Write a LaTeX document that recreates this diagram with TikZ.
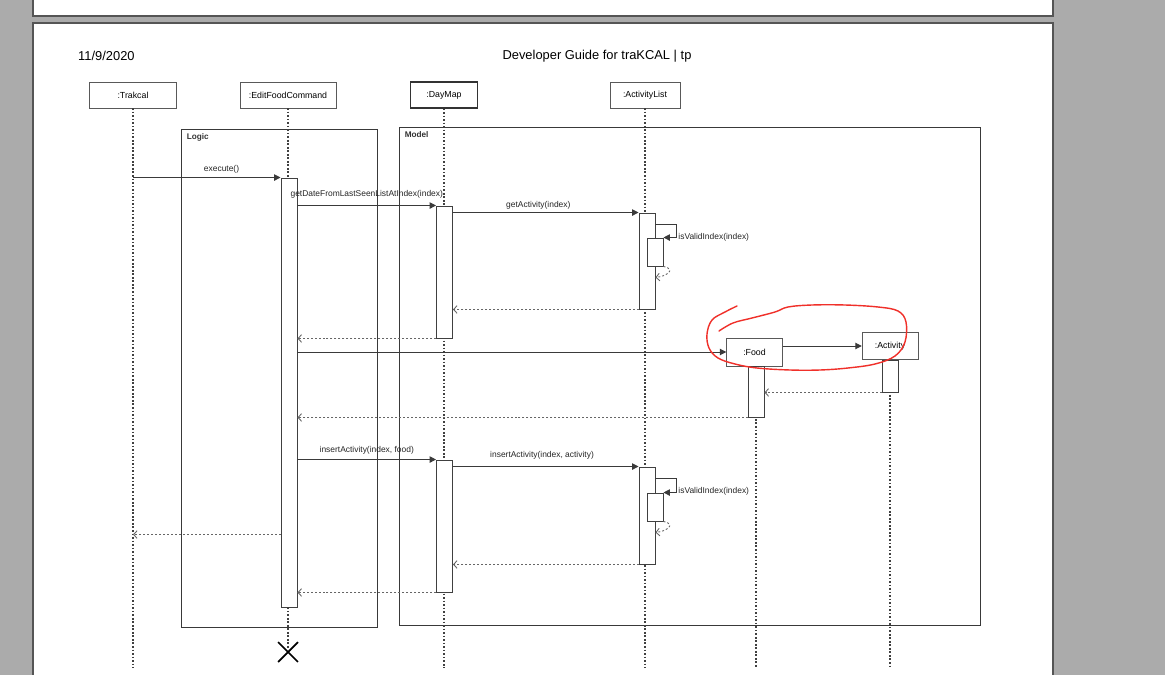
\documentclass[tikz,border=0pt]{standalone}
\usepackage{fontspec}
\setmainfont{Liberation Sans}
\usetikzlibrary{arrows.meta, calc, shapes.misc}
\definecolor{pageGray}{HTML}{ABABAB}
\definecolor{edgeGray}{HTML}{555555}
\definecolor{lineGray}{HTML}{3A3A3A}
\definecolor{penRed}{HTML}{F0302A}
\newcommand{\pxu}{0.03cm}

\begin{document}
\begin{tikzpicture}[
  x=0.03cm, y=-0.03cm,
  head/.style={draw=gray!70!black, fill=white, minimum height=26*\pxu, inner sep=0pt,
               font=\fontsize{7.5}{9}\selectfont},
  act/.style={draw=gray!50!black, fill=white, minimum width=16*\pxu, inner sep=0pt, line width=0.8pt},
  frame/.style={draw=gray!45!black, line width=0.75pt, inner sep=0pt},
  framelbl/.style={font=\bfseries\fontsize{7}{8}\selectfont, text=black!80, inner sep=0pt},
  lbl/.style={font=\fontsize{7.2}{8}\selectfont, text=black!85, inner sep=1pt},
  life/.style={black!75, line width=0.9pt, dash pattern=on 1.4pt off 1.6pt},
  msg/.style={-{Triangle[length=5.5pt, width=5.5pt]}, lineGray, line width=0.8pt},
  ret/.style={-{Straight Barb[length=3pt, width=6.5pt]}, gray!80!black, line width=0.75pt,
              dash pattern=on 1.7pt off 1.7pt},
  scribble/.style={penRed, line width=1.2pt, line cap=round, line join=round},
]
  \useasboundingbox (0,0) rectangle (1165,675);

  % pages
  \fill[pageGray] (0,0) rectangle (1165,675);
  \fill[white] (33,-5) rectangle (1053,16);
  \draw[edgeGray, line width=1.2pt] (33,-5) |- (1053,16) -- (1053,-5);
  \fill[white] (33,23) rectangle (1053,680);
  \draw[edgeGray, line width=1.2pt] (33,680) |- (1053,23) -- (1053,680);

  \node[anchor=west, font=\fontsize{11}{13}\selectfont, inner sep=0pt] (date) at (78,56) {11/9/2020};
  \node[font=\fontsize{11}{13}\selectfont, inner sep=0pt] (title) at (597,56) {Developer Guide for traKCAL | tp};

  % lifeline heads
  \node[head, minimum width=87*\pxu] (trakhead) at (133,95) {:Trakcal};
  \node[head, minimum width=96*\pxu] (cmdhead) at (288,95) {:EditFoodCommand};
  \node[head, minimum width=67*\pxu, draw=black!80, line width=0.9pt] (dmhead) at (444,95) {:DayMap};
  \node[head, minimum width=70*\pxu] (alhead) at (645,95) {:ActivityList};

  % frames
  \node[frame, minimum width=196*\pxu, minimum height=498*\pxu] (logic) at (279,378) {};
  \node[frame, minimum width=581*\pxu, minimum height=498*\pxu] (model) at (689.5,376) {};
  \node[framelbl, anchor=north west] (logiclbl) at ($(logic.north west)+(6,5)$) {Logic};
  \node[framelbl, anchor=north west] (modellbl) at ($(model.north west)+(6,5)$) {Model};

  % created objects and end mark
  \node[head, minimum width=56*\pxu, minimum height=28*\pxu] (food) at (754.5,352) {:Food};
  \node[head, minimum width=56*\pxu, minimum height=27*\pxu] (activity) at (890,346) {:Activity};
  \node[cross out, draw=black, line width=1.5pt, minimum size=18*\pxu, inner sep=0pt] (destroy) at (288,652) {};

  \coordinate (trakend) at (133,668);
  \coordinate (dmend) at (444,668);
  \coordinate (alend) at (645,668);
  \coordinate (foodend) at (756,668);
  \coordinate (activityend) at (890,668);

  % lifelines
  \draw[life] (trakhead.south) -- (trakend);
  \draw[life] (cmdhead.south) -- (destroy.center);
  \draw[life] (dmhead.south) -- (dmend);
  \draw[life] (alhead.south) -- (alend);
  \draw[life] (food.south -| foodend) -- (foodend);
  \draw[life] (activity.south) -- (activityend);

  % activations
  \node[act, minimum height=429*\pxu] (cmdact) at (289,392.5) {};
  \node[act, minimum height=132*\pxu] (dm1) at (444.5,272) {};
  \node[act, minimum height=96*\pxu] (al1) at (647,261) {};
  \node[act, minimum height=28*\pxu] (al1n) at (655,252) {};
  \node[act, minimum height=51*\pxu] (foodact) at (756,391.5) {};
  \node[act, minimum height=32*\pxu] (actact) at (890,376) {};
  \node[act, minimum height=132*\pxu] (dm2) at (444.5,526) {};
  \node[act, minimum height=97*\pxu] (al2) at (647,515.5) {};
  \node[act, minimum height=28*\pxu] (al2n) at (655,507) {};

  % first lookup
  \draw[msg] (trakhead.south |- cmdact.north) -- node[lbl, pos=0.6, above=2pt] {execute()} (cmdact.north west);
  \draw[msg] (cmdact.east |- dm1.north) -- node[lbl, above=5pt] {getDateFromLastSeenListAtIndex(index)} (dm1.north west);
  \draw[msg] (dm1.east |- al1.north) -- node[lbl, pos=0.46, above=1.5pt] {getActivity(index)} (al1.north west);
  \draw[msg] ($(al1.north east)+(0,12)$) -- ++(21,0) |- (al1n.north east);
  \node[lbl, anchor=west] (valid1) at (677,237) {isValidIndex(index)};
  \draw[ret] (al1n.south east) .. controls ++(14,3) and ++(10,-1) .. ($(al1.east |- al1n.south)+(0,11)$);
  \draw[ret] (al1.south west) -- (dm1.east |- al1.south);
  \draw[ret] (dm1.south west) -- (cmdact.east |- dm1.south);

  % new food
  \draw[msg] (cmdact.east |- food.west) -- (food.west);
  \draw[msg] (food.east |- activity.west) -- (activity.west);
  \draw[ret] (actact.south west) -- (foodact.east |- actact.south);
  \draw[ret] (foodact.south west) -- (cmdact.east |- foodact.south);

  % insert
  \draw[msg] (cmdact.east |- dm2.north) -- node[lbl, above=3.5pt] {insertActivity(index, food)} (dm2.north west);
  \draw[msg] (dm2.east |- al2.north) -- node[lbl, pos=0.48, above=4.5pt] {insertActivity(index, activity)} (al2.north west);
  \draw[msg] ($(al2.north east)+(0,12)$) -- ++(21,0) |- (al2n.north east);
  \node[lbl, anchor=west] (valid2) at (677,491) {isValidIndex(index)};
  \draw[ret] (al2n.south east) .. controls ++(14,3) and ++(10,-1) .. ($(al2.east |- al2n.south)+(0,11)$);
  \draw[ret] (al2.south west) -- (dm2.east |- al2.south);
  \draw[ret] (dm2.south west) -- (cmdact.east |- dm2.south);
  \draw[ret] ($(cmdact.north west)+(0,357)$) -- (trakhead.south |- {$(cmdact.north west)+(0,357)$});

  % hand-drawn mark
  \draw[scribble] plot[smooth, tension=0.6] coordinates {
    (737,306) (725,312) (712,320) (707,334) (709,348) (718,358) (735,364) (757,368)
    (790,370) (820,370) (848,368) (875,364) (895,356) (905,342) (906,322) (898,311)
    (878,307) (845,305) (812,305) (788,307) (775,312) (752,318) (733,323) (719,331)};
\end{tikzpicture}
\end{document}
